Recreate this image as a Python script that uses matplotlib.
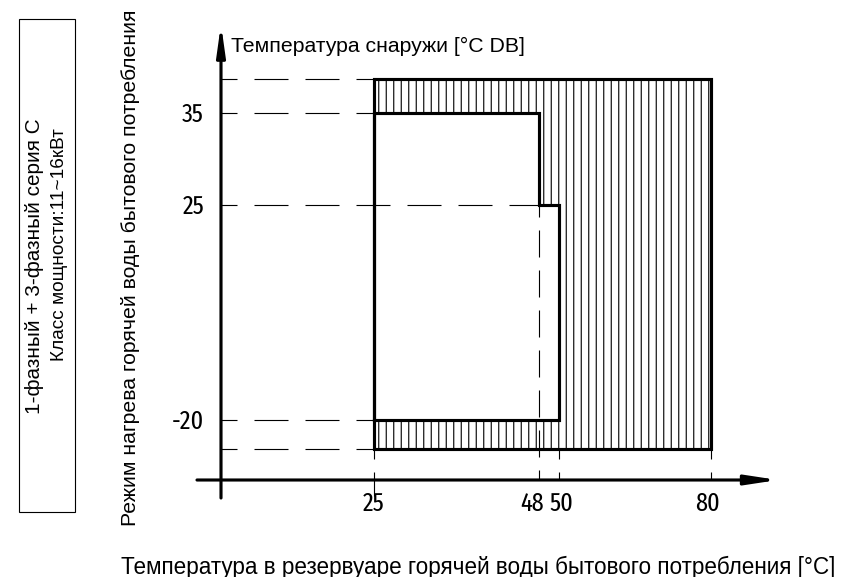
import numpy as np
import matplotlib
matplotlib.use('Agg')
import matplotlib.pyplot as plt
from matplotlib.patches import Polygon, Rectangle

# ---- data ----
water_ticks = [25, 48, 50, 80]              # water tank temperature, °C
outdoor_ticks = [35, 25, -20]               # outdoor temperature, °C DB
water_min, water_max = 25, 80
outdoor_min, outdoor_max = -25, 43
# heat pump only region (inner outline)
hp_water = [25, 25, 48, 48, 50, 50]
hp_outdoor = [-20, 35, 35, 25, 25, -20]

title_y = 'Температура снаружи [°C DB]'
title_x = 'Температура в резервуаре горячей воды бытового потребления [°C]'
mode_label = 'Режим нагрева горячей воды бытового потребления'
box_lines = ['1-фазный + 3-фазный серия С', 'Класс мощности:11~16кВт']

# ---- schematic (non linear) scale, figure pixels ----
W, H, DPI = 846, 577, 90
X_KNOTS = [-40, 0, 25, 48, 50, 80, 120]
X_PIX = [-24.1, 221, 374, 539, 559, 711, 956]
Y_KNOTS = [-80, -25, -20, 25, 35, 43, 100]
Y_PIX = np.array([768, 449, 420, 205, 113, 79, -163])
Y_UP = H - Y_PIX


def fx(v):
    return np.interp(v, X_KNOTS, X_PIX)


def ix(p):
    return np.interp(p, X_PIX, X_KNOTS)


def fy(v):
    return np.interp(v, Y_KNOTS, Y_UP)


def iy(p):
    return np.interp(p, Y_UP, Y_KNOTS)


def py(p):
    # data value at a pixel row counted from the top
    return iy(H - p)


plt.rcParams['lines.scale_dashes'] = False
plt.rcParams['hatch.linewidth'] = 0.9

fig = plt.figure(figsize=(W / DPI, H / DPI), dpi=DPI)
ax = fig.add_axes([0, 0, 1, 1])
ax.set_xscale('function', functions=(fx, ix))
ax.set_yscale('function', functions=(fy, iy))
ax.set_xlim(ix(0), ix(W))
ax.set_ylim(py(H), py(0))
ax.axis('off')

axis_y = py(480)
narrow = ['Fira Sans Extra Condensed', 'DejaVu Sans']
sans = ['Liberation Sans', 'DejaVu Sans']

# hatched region = outer range minus heat pump region
outer = [(water_min, outdoor_min), (water_max, outdoor_min),
         (water_max, outdoor_max), (water_min, outdoor_max)]
verts = (outer + [(water_min, hp_outdoor[1])]
         + list(zip(hp_water[1:], hp_outdoor[1:])) + [(water_min, hp_outdoor[0])])
ax.add_patch(Polygon(verts, closed=True, facecolor='none', edgecolor='k',
                     hatch='||', linewidth=0, zorder=1))
ax.add_patch(Rectangle((water_min, outdoor_min), water_max - water_min,
                       outdoor_max - outdoor_min, fill=False, lw=2.5,
                       ec='k', zorder=3, joinstyle='miter'))
ax.plot(hp_water + [hp_water[0]], hp_outdoor + [hp_outdoor[0]], color='k',
        lw=2.5, zorder=3, solid_joinstyle='miter')

# dashed guide lines
h_dash = dict(color='k', lw=0.9, zorder=2, linestyle=(14.4, (27.2, 13.6)))
for lvl in [outdoor_max, outdoor_ticks[0], outdoor_ticks[2], outdoor_min]:
    ax.plot([0, water_min], [lvl, lvl], **h_dash)
ax.plot([0, hp_water[2]], [outdoor_ticks[1]] * 2, **h_dash)

v_dash = dict(color='k', lw=0.9, zorder=2, linestyle=(13.6, (21.6, 10.4)))
ax.plot([water_ticks[0]] * 2, [outdoor_min, py(496)], **v_dash)
ax.plot([water_ticks[1]] * 2, [outdoor_ticks[1], axis_y],
        color='k', lw=0.9, zorder=2, linestyle=(12, (21.6, 10.4)))
ax.plot([water_ticks[2]] * 2, [outdoor_min, axis_y], **v_dash)
ax.plot([water_ticks[3]] * 2, [outdoor_min, axis_y], **v_dash)

# axes with arrows
ax.annotate('', xy=(ix(778), axis_y), xytext=(ix(197), axis_y),
            arrowprops=dict(arrowstyle='-|>,head_length=1.05,head_width=0.16',
                            lw=2.5, color='k', mutation_scale=20,
                            shrinkA=0, shrinkB=0))
ax.annotate('', xy=(0, py(24)), xytext=(0, py(498)),
            arrowprops=dict(arrowstyle='-|>,head_length=1.0,head_width=0.14',
                            lw=2.5, color='k', mutation_scale=20,
                            shrinkA=0, shrinkB=0))

# tick labels (small pixel nudges as in the drawing)
x_nudge = [0, -7, 2, -3]
for t, dx in zip(water_ticks, x_nudge):
    ax.annotate(str(t), xy=(t, py(491)), xytext=(dx, 0),
                textcoords='offset pixels', ha='center', va='top',
                fontsize=21, family=narrow)
for t in outdoor_ticks:
    ax.annotate(str(t), xy=(ix(204), t), xytext=(0, -2),
                textcoords='offset pixels', ha='right', va='center',
                fontsize=21, family=narrow)

ax.text(ix(231), py(46), title_y, ha='left', va='center', fontsize=17,
        family=sans)
fig.text(478 / W, 1 - 567 / H, title_x, ha='center', va='center',
         fontsize=18, family=sans)
fig.text(131 / W, 1 - 268 / H, mode_label, ha='center', va='center',
         rotation=90, fontsize=17, family=sans)

fig.add_artist(Rectangle((19 / W, 1 - 512 / H), 56 / W, 493 / H,
                         transform=fig.transFigure, fill=False, lw=0.9, ec='k'))
fig.text(35 / W, 1 - 266 / H, box_lines[0], ha='center', va='center',
         rotation=90, fontsize=16.6, family=sans)
fig.text(60 / W, 1 - 245 / H, box_lines[1], ha='center', va='center',
         rotation=90, fontsize=15.2, family=sans)

fig.savefig('out.png', dpi=DPI, facecolor='white')
